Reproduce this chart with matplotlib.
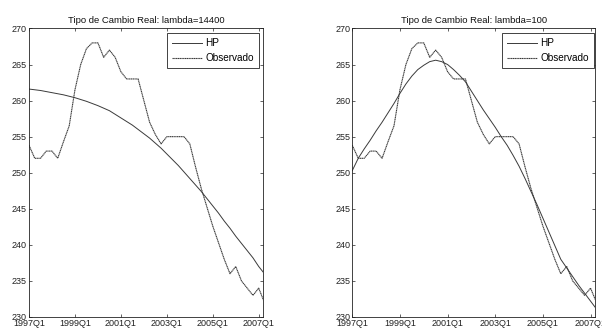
import matplotlib
matplotlib.use("Agg")

import matplotlib.pyplot as plt
import numpy as np


FONT = ["Liberation Sans", "DejaVu Sans"]

# quarterly series, 1997Q1 .. 2007Q2
OBSERVADO = [
    253.8, 252.0, 252.0, 253.0, 253.0, 252.0, 254.3, 256.5, 261.5, 265.0,
    267.2, 268.0, 268.0, 266.0, 267.0, 266.0, 264.0, 263.0, 263.0, 263.0,
    260.0, 257.0, 255.3, 254.0, 255.0, 255.0, 255.0, 255.0, 254.0, 250.8,
    247.8, 245.2, 242.6, 240.3, 238.0, 236.0, 237.0, 235.0, 234.0, 233.0,
    234.0, 232.0,
]

HP_14400 = [
    261.6, 261.5, 261.4, 261.25, 261.1, 260.95, 260.8, 260.6, 260.4, 260.15,
    259.9, 259.6, 259.3, 258.95, 258.6, 258.1, 257.6, 257.1, 256.6, 256.0,
    255.4, 254.8, 254.1, 253.4, 252.6, 251.8, 251.0, 250.1, 249.2, 248.3,
    247.4, 246.4, 245.4, 244.4, 243.3, 242.3, 241.2, 240.2, 239.2, 238.2,
    237.0, 236.0,
]

HP_100 = [
    250.3, 252.0, 253.3, 254.5, 255.8, 257.0, 258.3, 259.6, 261.0, 262.3,
    263.4, 264.3, 264.9, 265.4, 265.6, 265.4, 265.0, 264.3, 263.5, 262.6,
    261.3, 260.0, 258.7, 257.5, 256.3, 255.0, 253.8, 252.4, 250.9, 249.2,
    247.4, 245.6, 243.7, 241.8, 239.9, 238.0, 236.8, 235.6, 234.4, 233.3,
    232.2, 231.1,
]

TICK_POS = [0, 8, 16, 24, 32, 40]
TICK_LABELS = ["1997Q1", "1999Q1", "2001Q1", "2003Q1", "2005Q1", "2007Q1"]
Y_TICKS = [230, 235, 240, 245, 250, 255, 260, 265, 270]


def _draw_panel(ax, trend, title, legend_anchor):
    t = np.arange(len(OBSERVADO))
    ax.plot(t, trend, color="#3a3a3a", lw=0.7, ls="-", label="HP")
    ax.plot(t, OBSERVADO, color="#3a3a3a", lw=0.8, ls=(0, (1.2, 0.4)),
            label="Observado")

    ax.set_xlim(0, 40.75)
    ax.set_ylim(230, 270)
    ax.set_xticks(TICK_POS)
    ax.set_xticklabels(TICK_LABELS)
    ax.set_yticks(Y_TICKS)
    ax.tick_params(direction="in", top=True, right=True, length=2.5,
                   width=0.5, labelsize=6.5, pad=1.5, colors="#222222")
    for lbl in ax.get_xticklabels() + ax.get_yticklabels():
        lbl.set_family(FONT)
    for sp in ax.spines.values():
        sp.set_linewidth(0.6)
        sp.set_color("#222222")

    ax.set_title(title, fontsize=6.8, family=FONT, pad=4, color="#111111")

    leg = ax.legend(loc="upper right", bbox_to_anchor=legend_anchor,
                    fancybox=False, framealpha=1, edgecolor="#222222",
                    handlelength=3.0, handletextpad=0.4,
                    borderpad=0.5, labelspacing=0.5, borderaxespad=0,
                    prop={"family": FONT, "size": 7.2})
    leg.get_frame().set_linewidth(0.6)


fig = plt.figure(figsize=(6.02, 3.29), dpi=100)

ax1 = fig.add_axes([0.0482, 0.0365, 0.3887, 0.877])
_draw_panel(ax1, HP_14400, "Tipo de Cambio Real: lambda=14400", (0.983, 0.984))

ax2 = fig.add_axes([0.5852, 0.0365, 0.4032, 0.877])
_draw_panel(ax2, HP_100, "Tipo de Cambio Real: lambda=100", (0.996, 0.984))

fig.savefig("out.png", dpi=100)
